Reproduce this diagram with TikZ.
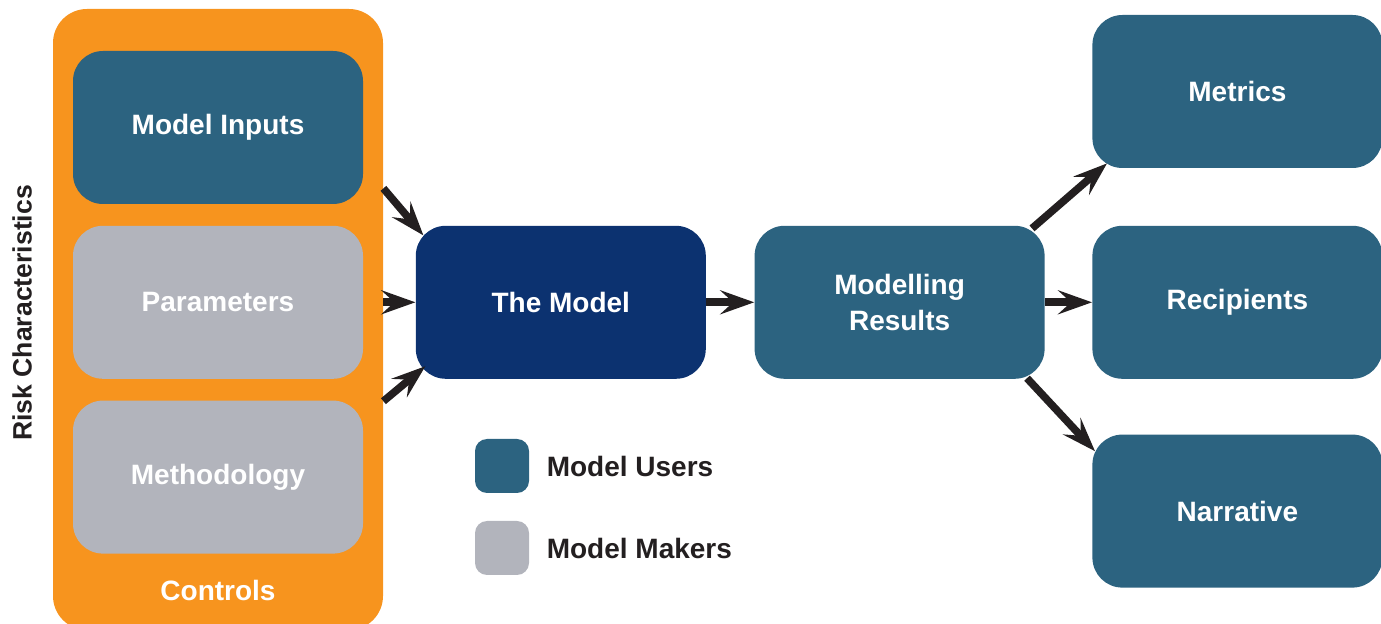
\documentclass[tikz,border=0pt]{standalone}
\usepackage{fontspec}
\setmainfont{Liberation Sans}
\usetikzlibrary{arrows.meta,positioning,calc}

\definecolor{usersteal}{HTML}{2C6380}
\definecolor{makersgray}{HTML}{B2B4BC}
\definecolor{modelnavy}{HTML}{0C3270}
\definecolor{controlsorange}{HTML}{F7941E}
\definecolor{textdark}{HTML}{231F20}

\begin{document}
\begin{tikzpicture}[
    x=0.5pt,
    y=-0.5pt,
    node distance=10.5pt and 26pt,
    font=\fontsize{14}{18}\selectfont\bfseries,
    text centered
  ]

  \tikzstyle{block} = [rectangle, rounded corners=15pt, minimum width=145pt, minimum height=76.5pt, inner sep=0pt, text=white, align=center]
  \tikzstyle{users} = [block, fill=usersteal]
  \tikzstyle{makers} = [block, fill=makersgray]
  \tikzstyle{swatch} = [rectangle, rounded corners=6pt, minimum size=27pt, inner sep=0pt]
  \tikzstyle{legendtext} = [inner sep=0pt, text=textdark]
  \tikzstyle{line} = [draw=textdark, line width=3.8pt, -{Stealth[length=17pt, width=12pt, inset=6.5pt]}]

  \useasboundingbox (0,0) rectangle (1381,624);

  \node [rectangle, rounded corners=17pt, fill=controlsorange, minimum width=165pt, minimum height=310.5pt] (controls) at (218,319.5) {};

  \node [users] (inputs) at (218,127.5) {Model Inputs};
  \node [makers, below=of inputs] (params) {Parameters};
  \node [makers, below=of params] (method) {Methodology};
  \node [text=white] (controlslabel) at (218,590) {Controls};
  \node [rotate=90, text=textdark, font=\fontsize{13.3}{16}\selectfont\bfseries] (risk) at (22,313) {Risk Characteristics};

  \node [block, fill=modelnavy, right=of params] (model) {The Model};
  \node [users, right=24pt of model] (results) {Modelling\\Results};
  \node [users, right=23.5pt of results] (recipients) {Recipients};
  \node [users, above=28.5pt of recipients] (metrics) {Metrics};
  \node [users, below=27.5pt of recipients] (narrative) {Narrative};

  % legend
  \node [swatch, fill=usersteal] (swusers) at (502,466) {};
  \node [legendtext, right=8.5pt of swusers] (lgusers) {Model Users};
  \node [swatch, fill=makersgray] (swmakers) at (502,548) {};
  \node [legendtext, right=8.5pt of swmakers] (lgmakers) {Model Makers};

  % into the model
  \path[line] ($(controls.east |- inputs.south)+(0,-16)$) -- ($(model.north west)+(8,10)$);
  \path[line] (controls.east |- params) -- (model.west);
  \path[line] ($(controls.east |- method.north)+(0,1)$) -- ($(model.south west)+(10,-13)$);

  \path[line] (model) -- (results);

  % out of the results
  \path[line] ($(results.north east)+(-13,3)$) -- ($(metrics.south west)+(15,-5)$);
  \path[line] (results) -- (recipients);
  \path[line] ($(results.south east)+(-18,-1)$) -- ($(narrative.north west)+(3,17)$);

\end{tikzpicture}
\end{document}
